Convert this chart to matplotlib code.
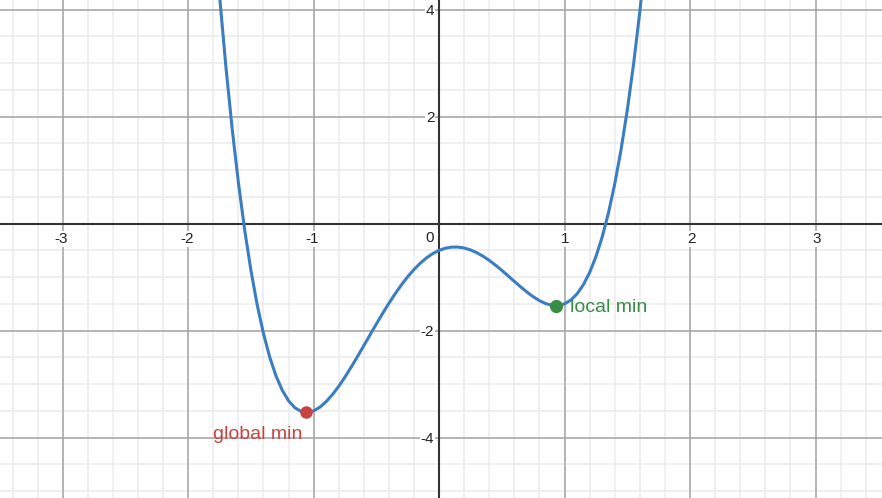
import numpy as np
import matplotlib
matplotlib.use("Agg")
import matplotlib.pyplot as plt

# curve samples
xs = [-1.8, -1.75, -1.7, -1.65, -1.6, -1.55, -1.5, -1.45, -1.4, -1.35, -1.3,
      -1.25, -1.2, -1.15, -1.1, -1.05, -1.0, -0.95, -0.9, -0.85, -0.8, -0.75,
      -0.7, -0.65, -0.6, -0.55, -0.5, -0.45, -0.4, -0.35, -0.3, -0.25, -0.2,
      -0.15, -0.1, -0.05, 0.0, 0.05, 0.1, 0.15, 0.2, 0.25, 0.3, 0.35, 0.4,
      0.45, 0.5, 0.55, 0.6, 0.65, 0.7, 0.75, 0.8, 0.85, 0.9, 0.95, 1.0, 1.05,
      1.1, 1.15, 1.2, 1.25, 1.3, 1.35, 1.4, 1.45, 1.5, 1.55, 1.6, 1.65]
ys = [5.735, 4.258, 2.944, 1.784, 0.767, -0.116, -0.875, -1.519, -2.057,
      -2.497, -2.848, -3.117, -3.313, -3.442, -3.512, -3.529, -3.5, -3.431,
      -3.328, -3.196, -3.041, -2.867, -2.680, -2.483, -2.281, -2.077, -1.875,
      -1.678, -1.489, -1.310, -1.144, -0.992, -0.857, -0.739, -0.640, -0.560,
      -0.5, -0.460, -0.440, -0.439, -0.457, -0.492, -0.544, -0.610, -0.689,
      -0.778, -0.875, -0.977, -1.081, -1.183, -1.280, -1.367, -1.441, -1.496,
      -1.528, -1.531, -1.5, -1.429, -1.312, -1.142, -0.913, -0.617, -0.248,
      0.203, 0.743, 1.381, 2.125, 2.984, 3.967, 5.084]

global_min = (-1.06, -3.53)
local_min = (0.93, -1.534)

x_ticks = [-3, -2, -1, 1, 2, 3]
y_ticks = [-4, -2, 2, 4]

BLUE = "#3a7dc2"
RED = "#c74440"
GREEN = "#388c46"
FONT = "Liberation Sans"

fig = plt.figure(figsize=(8.82, 4.98), dpi=100)
ax = fig.add_axes([0, 0, 1, 1])
ax.set_xlim(-3.5, 3.53)
ax.set_ylim(-5.13, 4.18)
ax.axis("off")

# grid
for gx in np.arange(-3.4, 3.6, 0.2):
    ax.axvline(gx, color="#ebebeb", lw=1.1, zorder=0)
for gy in np.arange(-5.0, 4.2, 0.5):
    ax.axhline(gy, color="#ebebeb", lw=1.1, zorder=0)
for gx in range(-3, 4):
    ax.axvline(gx, color="#a5a5a5", lw=1.1, zorder=1)
for gy in range(-4, 5, 2):
    ax.axhline(gy, color="#a5a5a5", lw=1.1, zorder=1)
ax.axhline(0, color="#333333", lw=1.5, zorder=2)
ax.axvline(0, color="#333333", lw=1.5, zorder=2)

# tick labels
bbox = dict(facecolor="white", edgecolor="none", pad=0.5)
for v in x_ticks:
    ax.annotate(str(v), (v, 0), xytext=(3.8, -6), textcoords="offset points",
                ha="right", va="top", fontsize=11, family=FONT,
                color="#222222", bbox=bbox, zorder=3)
ax.annotate("0", (0, 0), xytext=(-4, -5.5), textcoords="offset points",
            ha="right", va="top", fontsize=11, family=FONT,
            color="#222222", bbox=bbox, zorder=3)
for v in y_ticks:
    ax.annotate(str(v), (0, v), xytext=(-3.5, 0), textcoords="offset points",
                ha="right", va="center_baseline", fontsize=11, family=FONT,
                color="#222222", bbox=bbox, zorder=3)

# curve and points
ax.plot(xs, ys, color=BLUE, lw=2.2, zorder=4, solid_capstyle="round")
ax.plot(*global_min, "o", color=RED, ms=8, zorder=5)
ax.plot(*local_min, "o", color=GREEN, ms=8.5, zorder=5)

ax.annotate("global min", global_min, xytext=(-3, -16), textcoords="offset points",
            ha="right", va="center", fontsize=14, family=FONT, color=RED, zorder=5)
ax.annotate("local min", local_min, xytext=(10, -1), textcoords="offset points",
            ha="left", va="center", fontsize=14, family=FONT, color=GREEN, zorder=5)

fig.savefig("out.png", dpi=100)
